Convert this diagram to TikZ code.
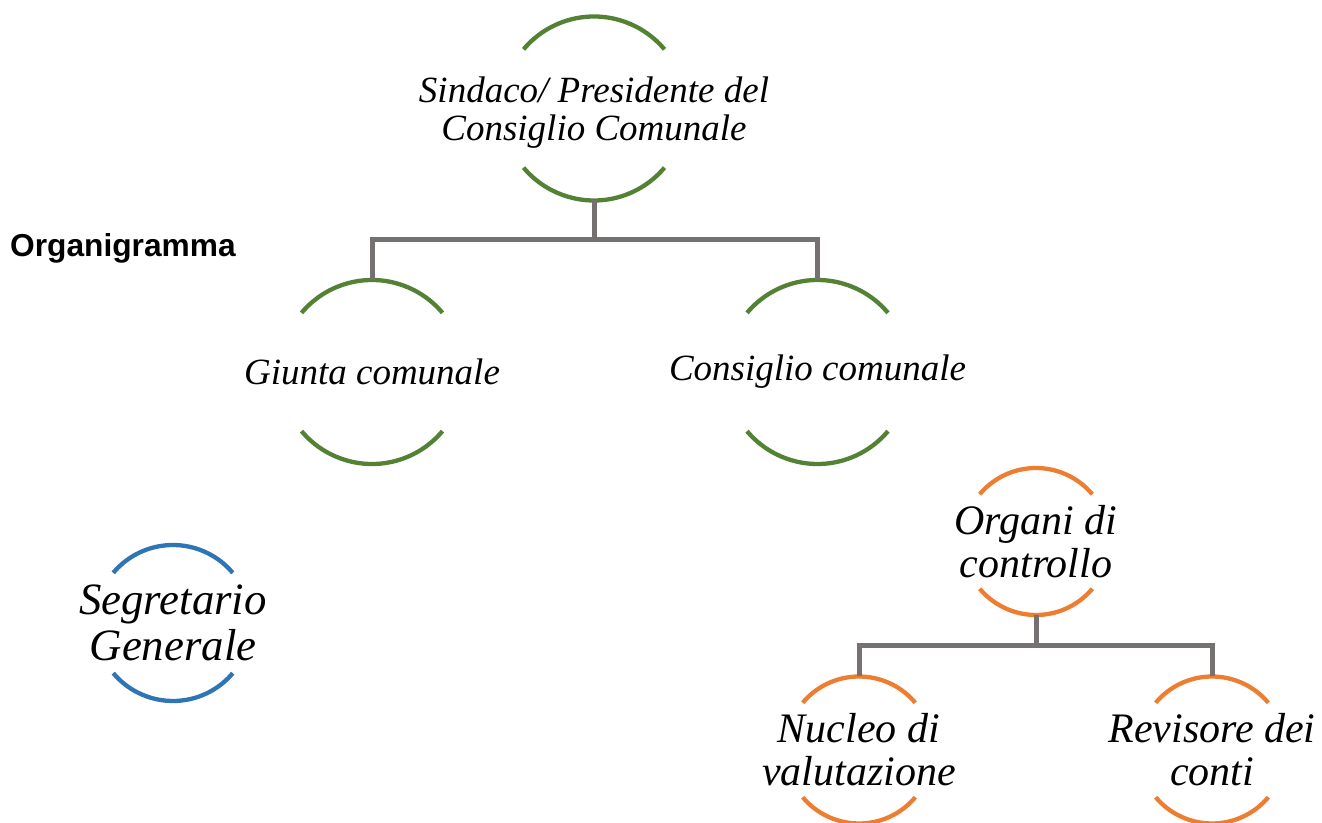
\documentclass[tikz,border=0pt]{standalone}
\usepackage{fontspec}
\setmainfont{Liberation Serif}
\newfontfamily\arialfont{Liberation Sans}
\definecolor{grn}{HTML}{548235}
\definecolor{org}{HTML}{ED7D31}
\definecolor{blu}{HTML}{2E75B6}
\definecolor{gry}{HTML}{767171}
\tikzset{
  ring/.style={circle, minimum size=#1, inner sep=0pt, outer sep=0pt},
  lbl/.style={align=center, inner sep=0pt, font=\itshape},
  conn/.style={gry, line width=5pt},
  arcline/.style={line width=4.3pt}
}
\newcommand\arcpair[3]{%
  \draw[arcline,#3] (#1.40) arc[start angle=40,end angle=140,radius=#2];
  \draw[arcline,#3] (#1.220) arc[start angle=220,end angle=320,radius=#2];}
\begin{document}
\begin{tikzpicture}[x=1pt,y=1pt]
\useasboundingbox (0,0) rectangle (1322,822);
% title
\node[anchor=base west, inner sep=0pt, font=\arialfont\bfseries\fontsize{31.7}{34}\selectfont] (title) at (10,565) {Organigramma};
% green nodes
\node[ring=184pt] (sind) at (594,713.5) {};
\node[lbl, font=\itshape\fontsize{37}{37.6}\selectfont] (sindt) at ([yshift=-4pt]sind.center) {Sindaco/ Presidente del\\Consiglio Comunale};
\arcpair{sind}{92pt}{grn}
\node[ring=184pt] (giunta) at (372,450) {};
\node[lbl, font=\itshape\fontsize{37}{37.6}\selectfont] (giuntat) at (giunta) {Giunta comunale};
\arcpair{giunta}{92pt}{grn}
\node[ring=184pt] (cons) at (817.5,450) {};
\node[lbl, font=\itshape\fontsize{37}{37.6}\selectfont] (const) at (cons) {Consiglio comunale};
\arcpair{cons}{92pt}{grn}
% blue node
\node[ring=156pt] (segr) at (173,199) {};
\node[lbl, font=\itshape\fontsize{44.8}{46}\selectfont] (segrt) at (segr) {Segretario\\Generale};
\arcpair{segr}{78pt}{blu}
% orange nodes
\node[ring=147pt] (org) at (1036,280.5) {};
\node[lbl, font=\itshape\fontsize{42}{43}\selectfont] (orgt) at (org) {Organi di\\controllo};
\arcpair{org}{73.5pt}{org}
\node[ring=147pt] (nuc) at (859,72) {};
\node[lbl, font=\itshape\fontsize{42}{43}\selectfont] (nuct) at (nuc) {Nucleo di\\valutazione};
\arcpair{nuc}{73.5pt}{org}
\node[ring=147pt] (rev) at (1212,72) {};
\node[lbl, font=\itshape\fontsize{42}{43}\selectfont] (revt) at (rev) {Revisore dei\\conti};
\arcpair{rev}{73.5pt}{org}
% connectors
\coordinate (j1) at (594,582);
\coordinate (j2) at (1036,176);
\draw[conn] (sind.south) -- (j1);
\draw[conn] (giunta.north) |- (j1) -| (cons.north);
\draw[conn] (org.south) -- (j2);
\draw[conn] (nuc.north) |- (j2) -| (rev.north);
\end{tikzpicture}
\end{document}
